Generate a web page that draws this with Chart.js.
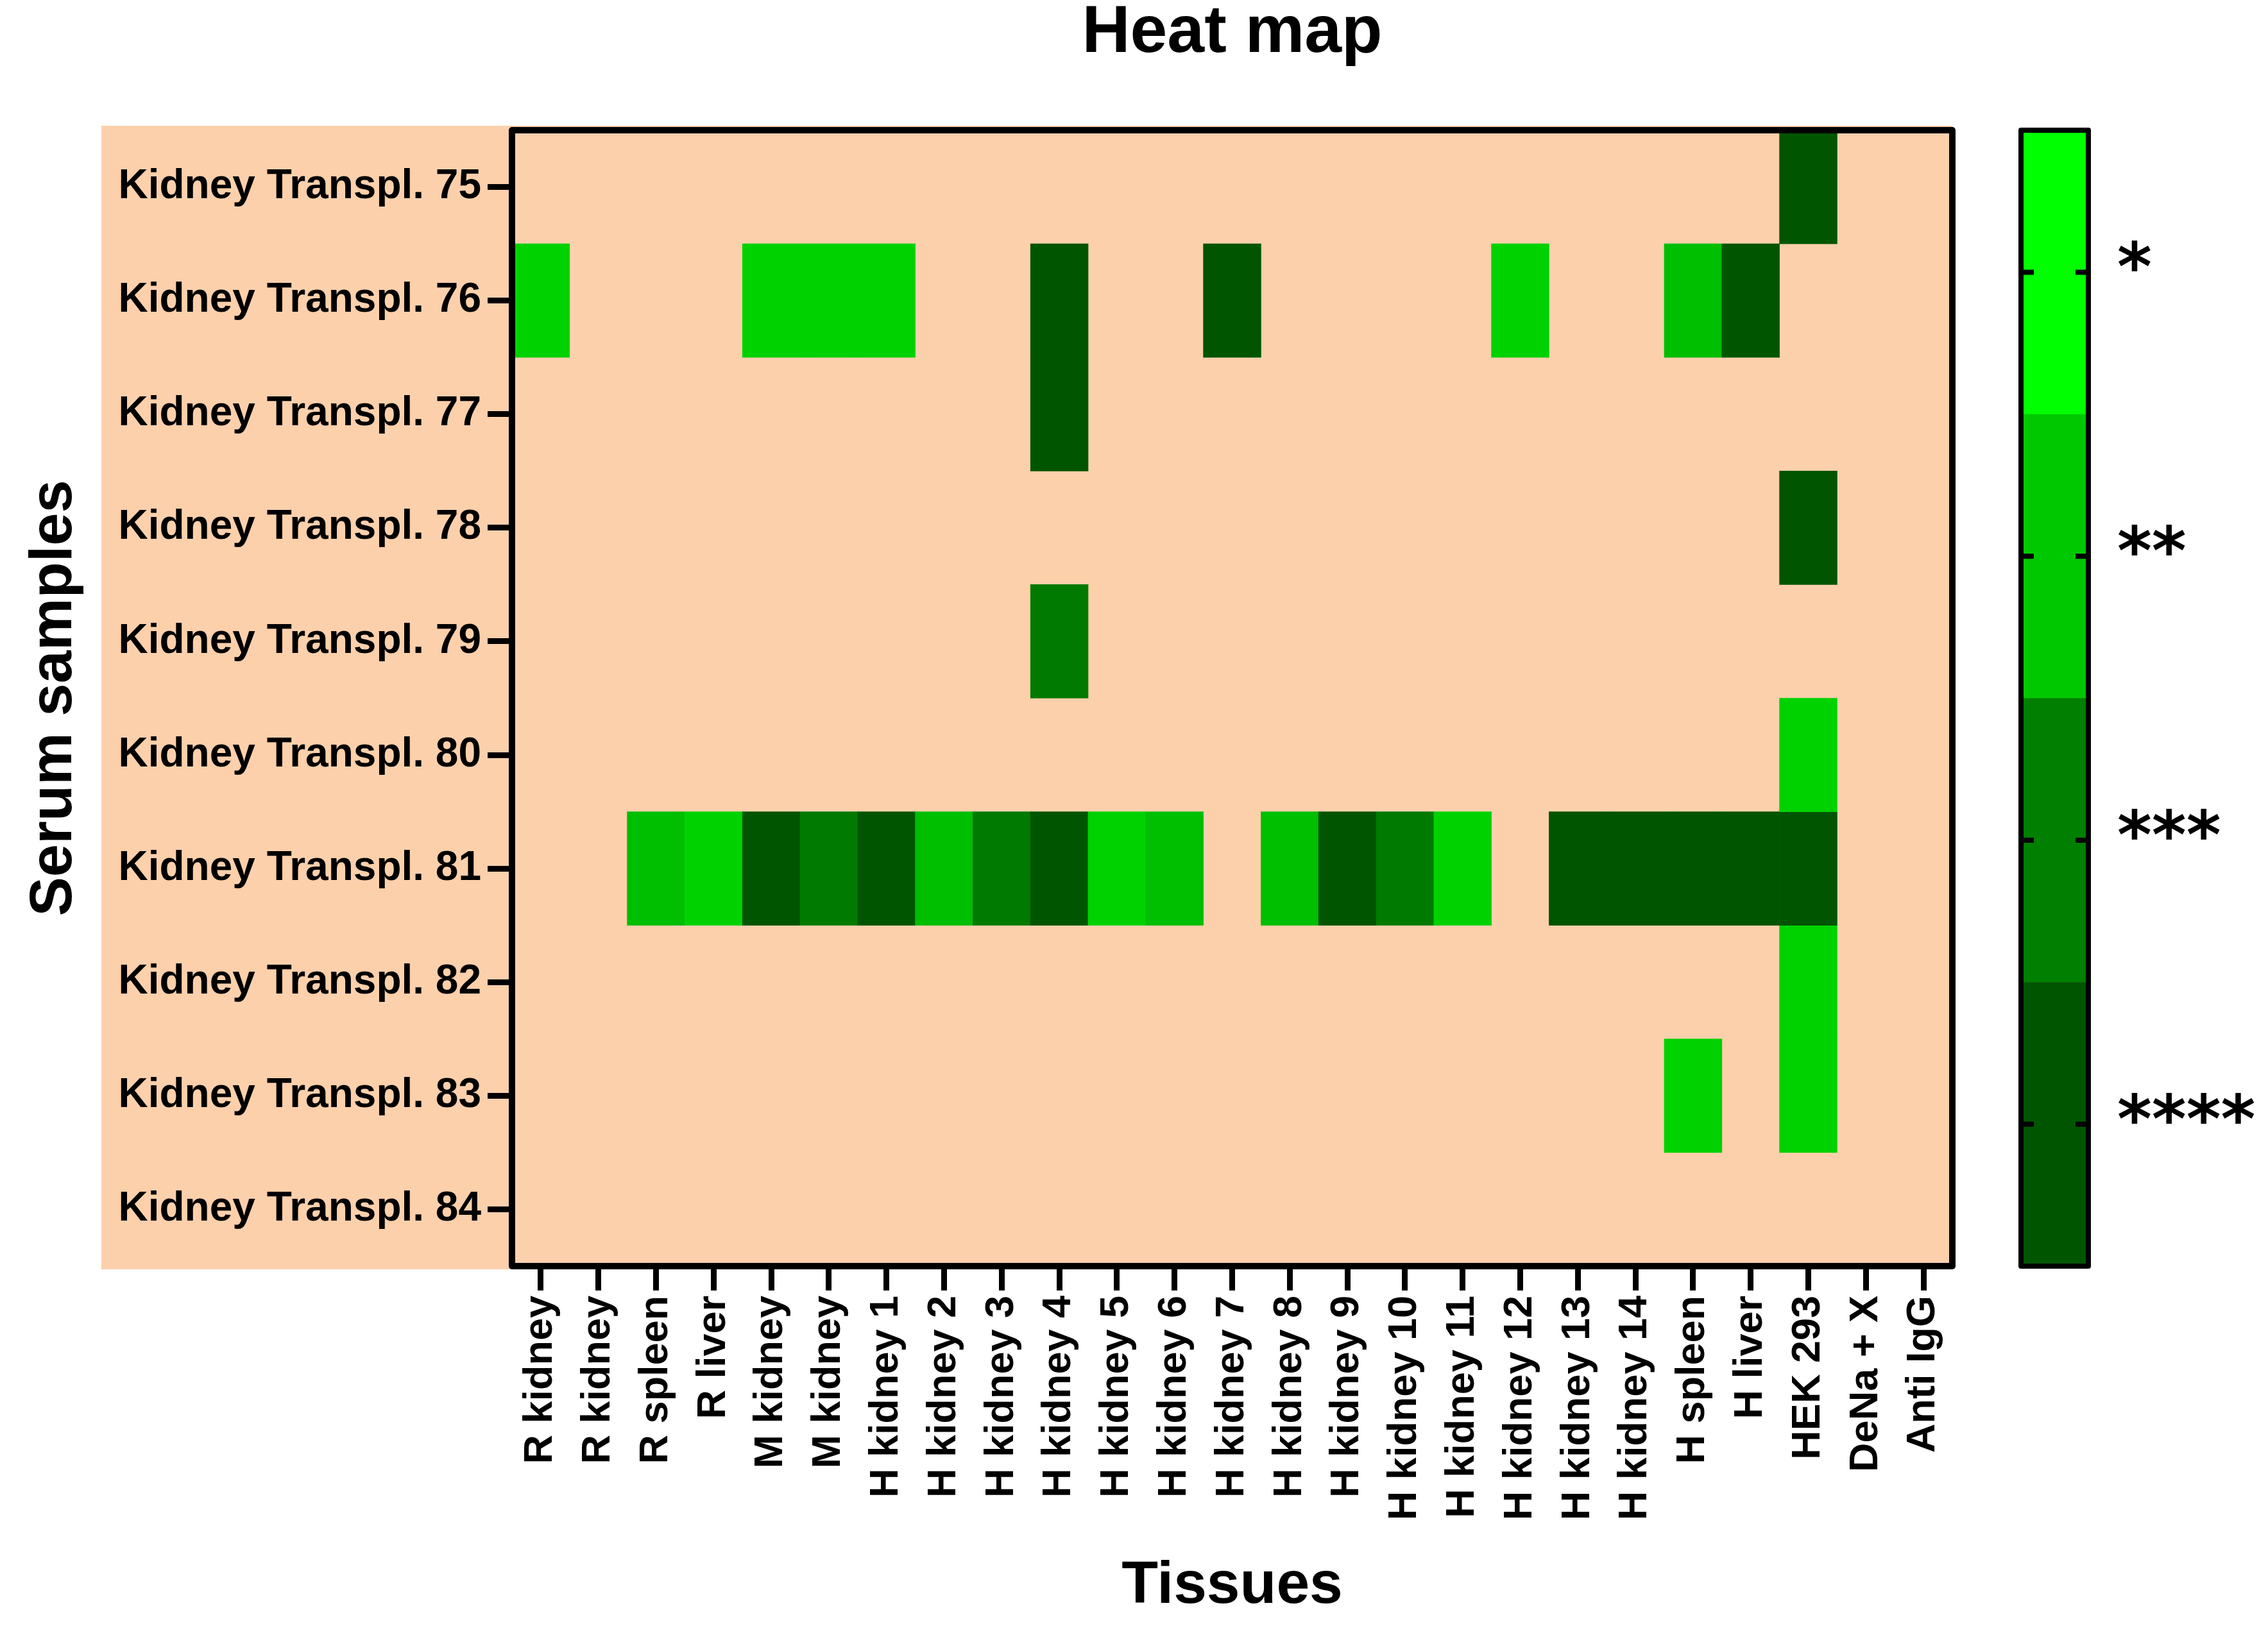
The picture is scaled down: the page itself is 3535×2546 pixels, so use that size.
<!DOCTYPE html>
<html>
<head>
<meta charset="utf-8">
<script src="https://cdn.jsdelivr.net/npm/chart.js@4.4.0/dist/chart.umd.min.js"></script>
<style>
html, body { margin: 0; padding: 0; background: #fff; }
#wrap { width: 3535px; height: 2546px; position: relative; }
</style>
</head>
<body>
<div id="wrap"><canvas id="heat"></canvas></div>
<script>
// tissues along the x axis
const tissues = ['R kidney', 'R kidney', 'R spleen', 'R liver', 'M kidney', 'M kidney',
    'H kidney 1', 'H kidney 2', 'H kidney 3', 'H kidney 4', 'H kidney 5', 'H kidney 6',
    'H kidney 7', 'H kidney 8', 'H kidney 9', 'H kidney 10', 'H kidney 11', 'H kidney 12',
    'H kidney 13', 'H kidney 14', 'H spleen', 'H liver', 'HEK 293', 'DeNa + X', 'Anti IgG'];

// serum samples along the y axis
const samples = ['Kidney Transpl. 75', 'Kidney Transpl. 76', 'Kidney Transpl. 77', 'Kidney Transpl. 78',
    'Kidney Transpl. 79', 'Kidney Transpl. 80', 'Kidney Transpl. 81', 'Kidney Transpl. 82',
    'Kidney Transpl. 83', 'Kidney Transpl. 84'];

// significance level per tissue (0 = none, 1 = *, 2 = **, 3 = ***, 4 = ****)
const row75 = [0,0,0,0,0, 0,0,0,0,0, 0,0,0,0,0, 0,0,0,0,0, 0,0,4,0,0];
const row76 = [1,0,0,0,1, 1,1,0,0,4, 0,0,4,0,0, 0,0,1,0,0, 2,4,0,0,0];
const row77 = [0,0,0,0,0, 0,0,0,0,4, 0,0,0,0,0, 0,0,0,0,0, 0,0,0,0,0];
const row78 = [0,0,0,0,0, 0,0,0,0,0, 0,0,0,0,0, 0,0,0,0,0, 0,0,4,0,0];
const row79 = [0,0,0,0,0, 0,0,0,0,3, 0,0,0,0,0, 0,0,0,0,0, 0,0,0,0,0];
const row80 = [0,0,0,0,0, 0,0,0,0,0, 0,0,0,0,0, 0,0,0,0,0, 0,0,1,0,0];
const row81 = [0,0,2,1,4, 3,4,2,3,4, 1,2,0,2,4, 3,1,0,4,4, 4,4,4,0,0];
const row82 = [0,0,0,0,0, 0,0,0,0,0, 0,0,0,0,0, 0,0,0,0,0, 0,0,1,0,0];
const row83 = [0,0,0,0,0, 0,0,0,0,0, 0,0,0,0,0, 0,0,0,0,0, 1,0,1,0,0];
const row84 = [0,0,0,0,0, 0,0,0,0,0, 0,0,0,0,0, 0,0,0,0,0, 0,0,0,0,0];
const rows = [row75, row76, row77, row78, row79, row80, row81, row82, row83, row84];

// colour scale labels, top to bottom
const scaleLabels = ['*', '**', '***', '****'];

const cellColors = ['rgba(0,0,0,0)', '#00d200', '#00be00', '#007a00', '#005500'];
const scaleColors = ['#00ff00', '#00c800', '#007f00', '#005500'];
const peach = '#fdd0ac';
const fontFamily = '"Liberation Sans", Arial, sans-serif';

// one floating-bar dataset per serum sample, each bar spans one row
const datasets = rows.map((row, r) => ({
    label: samples[r],
    data: row.map(v => v > 0 ? [r - 0.5, r + 0.5] : null),
    backgroundColor: row.map(v => cellColors[v]),
    borderWidth: 0,
    barPercentage: 1,
    categoryPercentage: 1,
    grouped: false
}));

const heatFrame = {
    id: 'heatFrame',
    beforeDraw(chart) {
        const {ctx, chartArea: a} = chart;
        ctx.save();
        ctx.fillStyle = peach;
        ctx.fillRect(158, a.top - 7, a.right - 158, a.bottom - a.top + 12);
        ctx.restore();
    },
    afterDatasetsDraw(chart) {
        const {ctx, chartArea: a} = chart;
        ctx.save();
        ctx.strokeStyle = '#000';
        ctx.lineWidth = 10;
        ctx.lineJoin = 'round';
        ctx.strokeRect(a.left, a.top, a.right - a.left, a.bottom - a.top);
        ctx.restore();
    },
    afterDraw(chart) {
        // colour scale bar to the right of the heat map
        const {ctx, chartArea: a} = chart;
        const left = a.right + 107;
        const right = a.right + 212;
        const band = (a.bottom - a.top) / scaleColors.length;
        ctx.save();
        scaleColors.forEach((c, i) => {
            ctx.fillStyle = c;
            ctx.fillRect(left, a.top + i * band, right - left, band + 0.5);
        });
        ctx.strokeStyle = '#000';
        ctx.lineWidth = 8;
        ctx.lineJoin = 'round';
        ctx.strokeRect(left, a.top, right - left, a.bottom - a.top);
        ctx.fillStyle = '#000';
        ctx.font = 'bold 103px "DejaVu Sans"';
        ctx.textBaseline = 'alphabetic';
        ctx.textAlign = 'left';
        scaleLabels.forEach((lbl, i) => {
            const y = a.top + (i + 0.5) * band;
            ctx.beginPath();
            ctx.moveTo(left + 4, y);
            ctx.lineTo(left + 20, y);
            ctx.moveTo(right - 4, y);
            ctx.lineTo(right - 20, y);
            ctx.stroke();
            ctx.fillText(lbl, right + 45, y + 28);
        });
        ctx.restore();
    }
};

new Chart(document.getElementById('heat'), {
    type: 'bar',
    data: { labels: tissues, datasets: datasets },
    options: {
        responsive: true,
        maintainAspectRatio: false,
        devicePixelRatio: 1,
        animation: false,
        layout: { padding: { left: 0, right: 492, top: 0, bottom: 0 } },
        plugins: {
            legend: { display: false },
            tooltip: { enabled: false },
            title: {
                display: true,
                text: 'Heat map',
                fullSize: false,
                color: '#000',
                font: { family: fontFamily, size: 104, weight: 'bold', lineHeight: 1 },
                padding: { top: 0, bottom: 99 }
            }
        },
        scales: {
            x: {
                type: 'category',
                offset: true,
                border: { display: false },
                grid: { drawOnChartArea: false, drawTicks: true, tickLength: 38, lineWidth: 9, color: '#000', offset: false },
                ticks: {
                    autoSkip: false, maxRotation: 90, minRotation: 90, padding: 8, color: '#000',
                    font: { family: fontFamily, size: 63, weight: 'bold' }
                },
                title: {
                    display: true, text: 'Tissues', color: '#000',
                    font: { family: fontFamily, size: 93, weight: 'bold', lineHeight: 1.2 },
                    padding: { top: 0, bottom: 17 }
                },
                afterFit: s => { s.height = 572; }
            },
            y: {
                type: 'linear',
                reverse: true,
                min: -0.5,
                max: 9.5,
                afterBuildTicks: s => { s.ticks = samples.map((_, i) => ({ value: i })); },
                border: { display: false },
                grid: { drawOnChartArea: false, drawTicks: true, tickLength: 38, lineWidth: 9, color: '#000' },
                ticks: {
                    padding: 10, color: '#000',
                    font: { family: fontFamily, size: 64, weight: 'bold' },
                    callback: v => samples[v]
                },
                title: {
                    display: true, text: 'Serum samples', color: '#000',
                    font: { family: fontFamily, size: 92, weight: 'bold', lineHeight: 1.2 },
                    padding: { top: 30, bottom: 0 }
                },
                afterFit: s => { s.width = 798; }
            }
        }
    },
    plugins: [heatFrame]
});
</script>
</body>
</html>
